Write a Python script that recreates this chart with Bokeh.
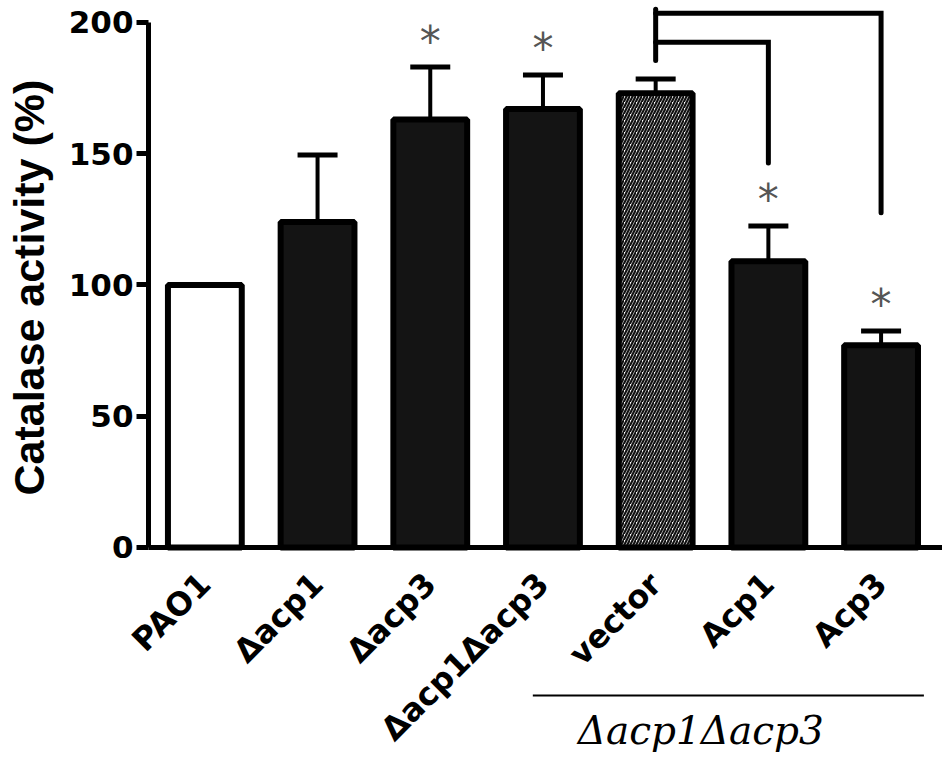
import math
from bokeh.plotting import figure
from bokeh.models import ColumnDataSource, FixedTicker, Whisker, TeeHead, Range1d
from bokeh.core.properties import value
from bokeh.embed import file_html
from bokeh.resources import INLINE

# ---- data ----
categories = ["PAO1", "\u0394acp1", "\u0394acp3", "\u0394acp1\u0394acp3", "vector", "Acp1", "Acp3"]
activity = [100, 124, 163, 167, 173, 109, 77]
error_up = [0, 25.5, 20, 13, 5.5, 13.5, 5.5]
significant = [False, False, True, True, False, True, True]
y_ticks = [0, 50, 100, 150, 200]
axis_title = "Catalase activity (%)"
group_title = "\u0394acp1\u0394acp3"
bracket_ref = "vector"
bracket_targets = ["Acp1", "Acp3"]
bracket_levels = [192.5, 203.5]
bracket_drops = [146.5, 127.5]
bracket_stem = [185.5, 205.0]

# ---- layout (data-space positions of the decorations) ----
X_LEFT, X_RIGHT = -1.8132, 6.545      # whole canvas is the plotting frame
Y_LOW, Y_HIGH = -78.48, 208.38
AXIS_X0 = -0.5                        # where the y axis stands
group_span = [2.91, 6.38]
group_level = -56.4
group_label_pos = [4.40, -69.6]
title_pos = [-1.556, 99.0]

x = list(range(len(categories)))
fills = ["white" if c in ("PAO1", "vector") else "#141414" for c in categories]
hatches = ["/" if c == "vector" else " " for c in categories]

src = ColumnDataSource(dict(x=x, activity=activity, fill=fills, hatch=hatches))

ex = [xi for xi, e in zip(x, error_up) if e > 0]
ev = [a for a, e in zip(activity, error_up) if e > 0]
eu = [a + e for a, e in zip(activity, error_up) if e > 0]
err_src = ColumnDataSource(dict(x=ex, lower=ev, upper=eu))

sx = [xi for xi, s in zip(x, significant) if s]
sy = [a + e for a, e, s in zip(activity, error_up, significant) if s]
star_src = ColumnDataSource(dict(x=sx, y=sy, t=["*"] * len(sx)))

p = figure(width=942, height=753, x_range=Range1d(X_LEFT, X_RIGHT), y_range=Range1d(Y_LOW, Y_HIGH),
           output_backend="svg", toolbar_location=None,
           min_border_left=0, min_border_right=0, min_border_top=0, min_border_bottom=0)
p.outline_line_color = None
p.xgrid.visible = False
p.ygrid.visible = False
p.background_fill_color = "white"
p.border_fill_color = "white"

p.vbar(x="x", top="activity", bottom=0, width=0.655, fill_color="fill", line_color="black",
       line_width=6, hatch_pattern="hatch", hatch_color="#111111", hatch_scale=6,
       hatch_weight=2.2, source=src)

p.add_layout(Whisker(source=err_src, base="x", upper="upper", lower="lower",
                     dimension="height", line_width=4, line_color="black",
                     upper_head=TeeHead(size=40, line_width=5, line_color="black"),
                     lower_head=None))

p.text(x="x", y="y", text="t", source=star_src, text_align="center",
       text_baseline="alphabetic", y_offset=-26, text_font=value("DejaVu Sans"),
       text_font_size="42px", text_color="#555555")

# brackets
ix = {c: i for i, c in enumerate(categories)}
xs, ys = [], []
for tgt, lvl, drop in zip(bracket_targets, bracket_levels, bracket_drops):
    xs.append([ix[bracket_ref], ix[tgt], ix[tgt]])
    ys.append([lvl, lvl, drop])
p.multi_line(xs=xs, ys=ys, line_width=5, line_color="black", line_cap="round", line_join="miter")
p.segment(x0=[ix[bracket_ref]], x1=[ix[bracket_ref]], y0=[bracket_stem[0]], y1=[bracket_stem[1]],
          line_width=5, line_color="black", line_cap="round")

# group annotation below the category labels
p.segment(x0=[group_span[0]], x1=[group_span[1]], y0=[group_level], y1=[group_level],
          line_width=2, line_color="black")
p.text(x=[group_label_pos[0]], y=[group_label_pos[1]], text=[group_title], text_align="center",
       text_baseline="middle", text_font=value("DejaVu Serif"),
       text_font_style="italic", text_font_size="39px", text_color="black")

# y axis title
p.text(x=[title_pos[0]], y=[title_pos[1]], text=[axis_title], angle=math.pi / 2,
       text_align="center", text_baseline="middle", text_font=value("Liberation Sans"),
       text_font_style="bold", text_font_size="43px", text_color="black")

# y axis
ya = p.yaxis[0]
ya.fixed_location = AXIS_X0
ya.ticker = FixedTicker(ticks=y_ticks)
ya.bounds = (0, 200)
ya.axis_line_width = 5
ya.major_tick_line_width = 5
ya.major_tick_out = 12
ya.major_tick_in = 0
ya.minor_tick_line_color = None
ya.major_label_text_font = "DejaVu Sans"
ya.major_label_text_font_style = "bold"
ya.major_label_text_font_size = "31px"
ya.major_label_text_color = "black"
ya.major_label_standoff = 3

# x axis drawn at y = 0
xa = p.xaxis[0]
xa.fixed_location = 0
xa.bounds = (AXIS_X0, X_RIGHT)
xa.ticker = FixedTicker(ticks=x)
xa.major_label_overrides = {i: c for i, c in zip(x, categories)}
xa.major_label_orientation = math.pi / 4
xa.axis_line_width = 5
xa.major_tick_line_color = None
xa.minor_tick_line_color = None
xa.major_tick_out = 0
xa.major_label_standoff = 31
xa.major_label_text_font = "DejaVu Sans"
xa.major_label_text_font_style = "bold"
xa.major_label_text_font_size = "32px"
xa.major_label_text_color = "black"

open("out.html", "w").write(file_html(p, INLINE))
